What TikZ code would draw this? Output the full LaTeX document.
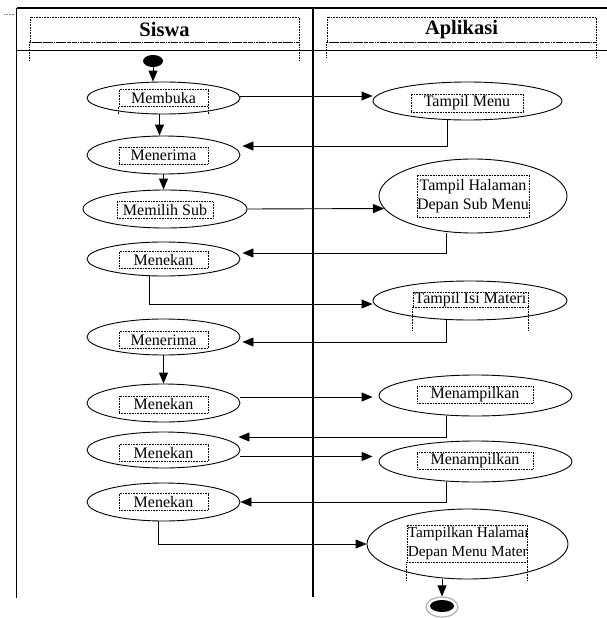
\documentclass[tikz,border=0pt]{standalone}
\usepackage{fontspec}
\setmainfont{Liberation Serif}
\usetikzlibrary{shapes.geometric,arrows.meta}
\begin{document}
\begin{tikzpicture}[x=1pt,y=-1pt,
  el/.style={ellipse,draw,line width=0.9pt,inner sep=0pt},
  lbl/.style={draw,densely dotted,line width=0.6pt,inner sep=0pt,minimum height=17pt,font=\fontsize{16}{19}\selectfont},
  hdr/.style={draw,densely dotted,line width=0.6pt,inner sep=0pt,minimum width=269pt,minimum height=25pt,font=\fontsize{20.5}{24}\selectfont\bfseries},
  arr/.style={line width=0.9pt,-{Triangle[length=11pt,width=9pt]}},
  frameline/.style={line width=1.2pt},
  leg/.style={densely dotted,line width=0.6pt}]
\useasboundingbox (0,0) rectangle (607,618);
% frame
\draw[frameline] (16.5,8) -- (607,8);
\draw[frameline] (16.5,50.5) -- (607,50.5);
\draw[frameline] (16.5,8) -- (16.5,598);
\draw[frameline] (313,8) -- (313,597);
\draw[gray,densely dotted,line width=0.5pt] (4,14) -- (14,14);
% headers
\node[hdr] (hsiswa) at (164.5,29.5) {Siswa};
\node[hdr] (haplikasi) at (461.5,29.5) {Aplikasi};
\draw[leg,line width=1.2pt] (hsiswa.south west) -- (hsiswa.south east);
\draw[leg,line width=1.2pt] (haplikasi.south west) -- (haplikasi.south east);
\draw[leg] (hsiswa.south west) -- ++(0,18);
\draw[leg] (hsiswa.south east) -- ++(0,18);
\draw[leg] (haplikasi.south west) -- ++(0,16);
\draw[leg] (haplikasi.south east) -- ++(0,16);
% start
\node[ellipse,fill=black,minimum width=20pt,minimum height=12pt,inner sep=0pt] (start) at (153,61) {};
% left column
\node[el,minimum width=153pt,minimum height=32pt] (membuka) at (163.5,98) {};
\node[lbl,minimum width=89pt] (membukaT) at (163.5,98) {Membuka};
\draw[leg] (membukaT.south west) -- ++(0,7);
\draw[leg] (membukaT.south east) -- ++(0,7);
\node[el,minimum width=153pt,minimum height=38pt] (menerima1) at (163.5,155) {};
\node[lbl,minimum width=89pt] (menerima1T) at (163.5,155.5) {Menerima};
\node[el,minimum width=164pt,minimum height=38pt] (memilih) at (165,209) {};
\node[lbl,minimum width=96pt] (memilihT) at (165,210) {Memilih Sub};
\node[el,minimum width=153pt,minimum height=34pt] (menekan1) at (163.5,259) {};
\node[lbl,minimum width=89pt] (menekan1T) at (163.5,260) {Menekan};
\node[el,minimum width=153pt,minimum height=36pt] (menerima2) at (163.5,337) {};
\node[lbl,minimum width=89pt] (menerima2T) at (163.5,340) {Menerima};
\node[el,minimum width=153pt,minimum height=38pt] (menekan2) at (163.5,403) {};
\node[lbl,minimum width=89pt] (menekan2T) at (163.5,404.5) {Menekan};
\node[el,minimum width=153pt,minimum height=36pt] (menekan3) at (163.5,450) {};
\node[lbl,minimum width=89pt] (menekan3T) at (163.5,453) {Menekan};
\node[el,minimum width=153pt,minimum height=38pt] (menekan4) at (163.5,502) {};
\node[lbl,minimum width=89pt] (menekan4T) at (163.5,502) {Menekan};
% right column
\node[el,minimum width=189pt,minimum height=38pt] (tmenu) at (467.5,101) {};
\node[lbl,minimum width=112pt,minimum height=18pt] (tmenuT) at (467,103) {Tampil Menu};
\node[el,minimum width=188pt,minimum height=74pt] (thal) at (473,196) {};
\node[lbl,minimum width=112pt,minimum height=42pt,align=center] (thalT) at (473,196) {Tampil Halaman\\Depan Sub Menu};
\node[el,minimum width=194pt,minimum height=39pt] (tisi) at (470,300.5) {};
\node[lbl,minimum width=115pt,minimum height=15pt] (tisiT) at (470.5,299.5) {Tampil Isi Materi};
\draw[leg] (tisiT.south west) -- ++(0,23);
\draw[leg] (tisiT.south east) -- ++(0,23);
\node[el,minimum width=193pt,minimum height=41pt] (tamp1) at (475.5,395.5) {};
\node[lbl,minimum width=116pt] (tamp1T) at (475,394.5) {Menampilkan};
\node[el,minimum width=193pt,minimum height=41pt] (tamp2) at (475.5,461.5) {};
\node[lbl,minimum width=116pt] (tamp2T) at (475,460.5) {Menampilkan};
\node[el,minimum width=201pt,minimum height=70pt] (thal2) at (467.5,544) {};
\node[lbl,minimum width=120pt,minimum height=37pt] (thal2T) at (467,543.5) {};
\begin{scope}
\clip (thal2T.north west) rectangle (thal2T.south east);
\node[font=\fontsize{15.3}{19}\selectfont,align=left,anchor=west,inner sep=0pt] (thal2txt) at ([xshift=1pt]thal2T.west) {Tampilkan Halaman\\Depan Menu Materi};
\end{scope}
\draw[leg] (thal2T.south west) -- ++(0,18);
\draw[leg] (thal2T.south east) -- ++(0,18);
% end
\node[ellipse,draw=gray!60,fill=white,line width=1.2pt,minimum width=32pt,minimum height=20pt,inner sep=0pt] (endring) at (442,607) {};
\node[ellipse,fill=black,minimum width=24pt,minimum height=12pt,inner sep=0pt] (end) at (442,606) {};
% connectors
\draw[arr] (start) -- (start |- membuka.north);
\draw[arr] ([yshift=2pt]membuka.east) -- ([yshift=5pt]tmenu.west);
\draw[arr] ([xshift=-4pt]membuka.south) -- ([xshift=-4pt]menerima1.north);
\draw[arr] ([xshift=-20.5pt]tmenu.south) |- ([xshift=2pt,yshift=9pt]menerima1.east);
\draw[arr] (menerima1.south) -- (menerima1.south |- memilih.north);
\draw[arr] (memilih.east) -- (thal.188);
\draw[arr] ([xshift=-27pt]thal.south) |- ([xshift=2pt,yshift=6pt]menekan1.east);
\draw[arr] ([xshift=-14.5pt]menekan1.south) |- ([yshift=-3.5pt]tisi.west);
\draw[arr] ([xshift=-24pt]tisi.south) |- ([xshift=2pt,yshift=-5pt]menerima2.east);
\draw[arr] (menerima2.south) -- (menekan2.north);
\draw[arr] ([yshift=6pt]menekan2.east) -- ([xshift=-6pt,yshift=-1.5pt]tamp1.west);
\draw[arr] ([xshift=-29.5pt]tamp1.south) |- ([xshift=-2pt,yshift=13pt]menekan3.east);
\draw[arr] ([yshift=-6.5pt]menekan3.east) -- ([xshift=-6pt,yshift=5pt]tamp2.west);
\draw[arr] ([xshift=-29.5pt]tamp2.south) |- (menekan4.east);
\draw[arr] ([xshift=-5.5pt]menekan4.south) |- (thal2.west);
\draw[arr] ([xshift=-25.5pt]thal2.south) -- (endring.north);
\end{tikzpicture}
\end{document}
